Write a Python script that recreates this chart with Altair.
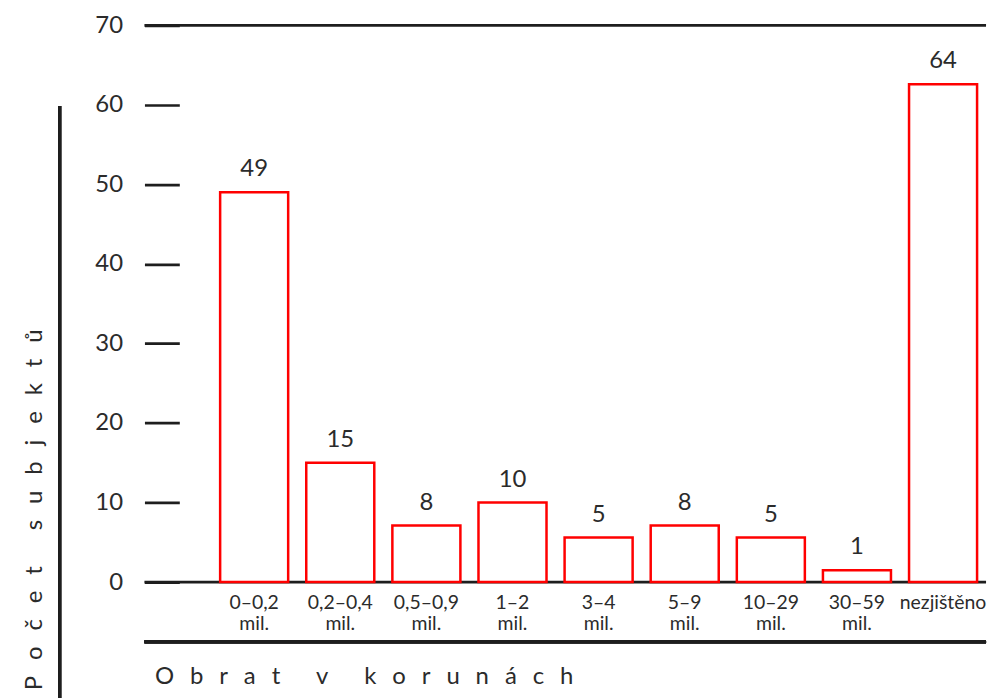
import altair as alt
import pandas as pd

FONT = "Lato"
TXT = "#2b2b2b"
LINE = "#1e1e1e"

categories = ["0–0,2 mil.", "0,2–0,4 mil.", "0,5–0,9 mil.", "1–2 mil.", "3–4 mil.",
              "5–9 mil.", "10–29 mil.", "30–59 mil.", "nezjištěno"]
counts = [49, 15, 8, 10, 5, 8, 5, 1, 64]
bar_heights = [49, 15, 7.1, 10, 5.6, 7.1, 5.6, 1.5, 62.6]
y_ticks = [0, 10, 20, 30, 40, 50, 60, 70]
frame_lines = [0, 70]

def spaced(text):
    words = text.split(" ")
    return "\u2003\u2002\u2005".join("\u2002\u2006".join(list(w)) for w in words)

x_title = spaced("Obrat v korunách")
y_title = spaced("Počet subjektů")

df = pd.DataFrame({"kat": categories, "pocet": counts, "vyska": bar_heights})

x_enc = alt.X(
    "kat:N",
    sort=categories,
    scale=alt.Scale(range=[76, 836], paddingInner=0.21, paddingOuter=0),
    axis=alt.Axis(
        labelExpr="split(datum.label, ' ')",
        labelAngle=0, labelFontSize=19.5, labelLineHeight=21, labelPadding=12,
        labelFont=FONT, labelColor=TXT, labelOverlap=False, labelLimit=200,
        ticks=False, domain=False, grid=False,
        title=x_title, titleFont=FONT, titleFontSize=24, titleFontWeight="normal",
        titleColor=TXT, titleX=10, titleY=102, titleAlign="left",
        titleAnchor="start", titleBaseline="alphabetic",
    ),
)
y_enc = alt.Y(
    "vyska:Q",
    scale=alt.Scale(domain=[0, 70], nice=False, zero=True),
    axis=alt.Axis(
        values=y_ticks, offset=-35, tickSize=35, tickWidth=2.7, tickColor=LINE,
        domain=False, grid=False, labelFontSize=24, labelFont=FONT,
        labelColor=TXT, labelPadding=22,
        title=y_title, titleFont=FONT, titleFontSize=24, titleFontWeight="normal",
        titleColor=TXT, titleAngle=-90, titleX=-145, titleY=486,
        titleAlign="center", titleBaseline="middle",
    ),
)

bars = alt.Chart(df).mark_bar(fill="white", stroke="#ff0000", strokeWidth=2.5).encode(
    x=x_enc, y=y_enc
)
labels = alt.Chart(df).mark_text(
    baseline="bottom", dy=-11, fontSize=24, font=FONT, color=TXT
).encode(x=alt.X("kat:N", sort=categories), y="vyska:Q", text="pocet:Q")

hlines = alt.Chart(pd.DataFrame({"vyska": frame_lines})).mark_rule(
    stroke=LINE, strokeWidth=2.7
).encode(y="vyska:Q", x=alt.value(0), x2=alt.value(845))

bottom_line = alt.Chart(df).mark_rule(stroke=LINE, strokeWidth=2.7).encode(
    x=alt.value(0), x2=alt.value(845), y=alt.value(619)
)
vert_line = alt.Chart(df).mark_rule(stroke=LINE, strokeWidth=2.7).encode(
    x=alt.value(-85), y=alt.value(81), y2=alt.value(676)
)

chart = alt.layer(hlines, bottom_line, vert_line, bars, labels).properties(
    width=845, height=559,
    padding={"left": 137, "top": 16, "right": 10, "bottom": 116},
    autosize="none",
    background="white",
).configure_view(stroke=None)

chart.save("out.html", embed_options={"renderer": "svg", "actions": False})
